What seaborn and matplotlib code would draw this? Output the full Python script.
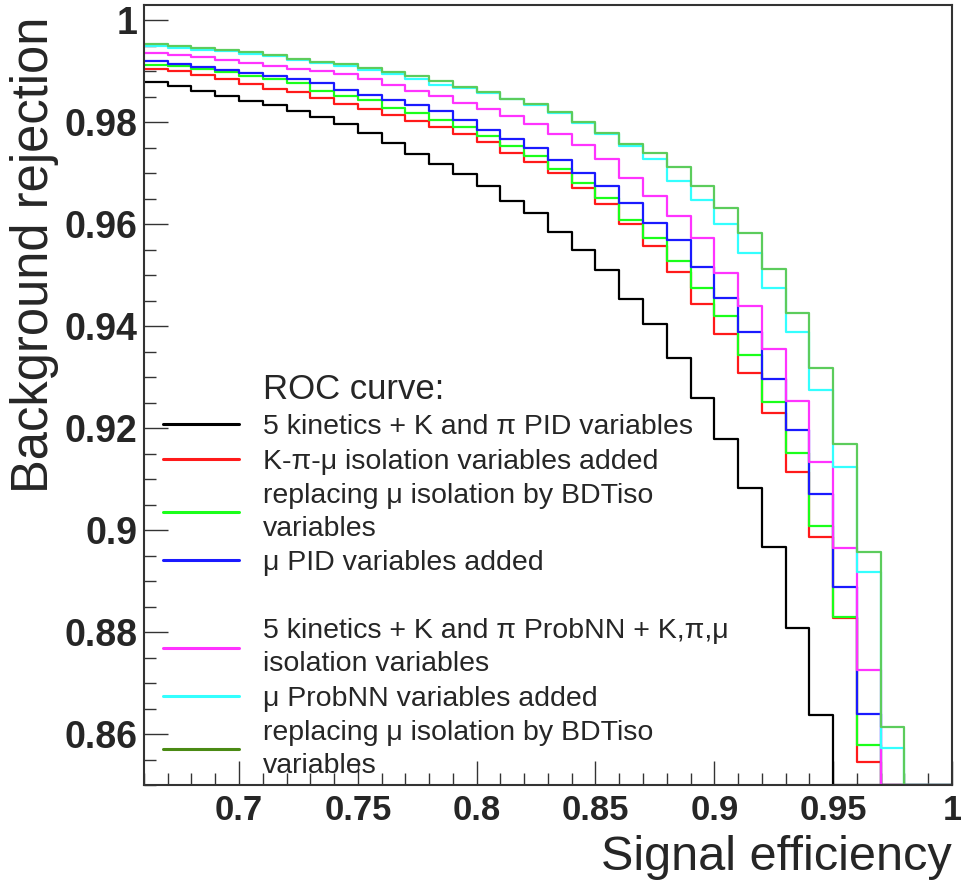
import numpy as np
import pandas as pd
import matplotlib
matplotlib.use("Agg")
import matplotlib.pyplot as plt
from matplotlib.lines import Line2D
from matplotlib.ticker import MultipleLocator, FuncFormatter
import seaborn as sns

# bin edges of the signal efficiency histograms (visible part only)
sig_eff_edges = np.linspace(0.66, 1.0, 35)

# background rejection per bin (0 = below the frame)
rej_kin_pid = [0.9879, 0.9871, 0.9862, 0.9852, 0.9841, 0.9833, 0.9822, 0.9810, 0.9796, 0.9779,
               0.9760, 0.9738, 0.9719, 0.9698, 0.9675, 0.9645, 0.9621, 0.9585, 0.9549, 0.9510,
               0.9453, 0.9404, 0.9338, 0.9259, 0.9178, 0.9082, 0.8967, 0.8808, 0.8637, 0,
               0, 0, 0, 0]
rej_kpimu_iso = [0.9905, 0.9900, 0.9892, 0.9885, 0.9875, 0.9866, 0.9859, 0.9848, 0.9835, 0.9825,
                 0.9815, 0.9802, 0.9790, 0.9777, 0.9761, 0.9740, 0.9722, 0.9701, 0.9671, 0.9639,
                 0.9600, 0.9557, 0.9506, 0.9444, 0.9385, 0.9309, 0.9229, 0.9113, 0.8987, 0.8827,
                 0.8546, 0, 0, 0]
rej_bdtiso = [0.9913, 0.9910, 0.9905, 0.9898, 0.9890, 0.9884, 0.9877, 0.9862, 0.9851, 0.9843,
              0.9828, 0.9818, 0.9805, 0.9790, 0.9773, 0.9754, 0.9733, 0.9709, 0.9680, 0.9652,
              0.9609, 0.9572, 0.9528, 0.9475, 0.9420, 0.9344, 0.9251, 0.9152, 0.9008, 0.8829,
              0.8579, 0, 0, 0]
rej_mu_pid = [0.9920, 0.9915, 0.9908, 0.9902, 0.9897, 0.9890, 0.9884, 0.9876, 0.9863, 0.9854,
              0.9843, 0.9833, 0.9822, 0.9804, 0.9785, 0.9768, 0.9749, 0.9726, 0.9701, 0.9675,
              0.9641, 0.9602, 0.9569, 0.9516, 0.9456, 0.9389, 0.9297, 0.9197, 0.9070, 0.8889,
              0.8639, 0, 0, 0]
rej_probnn = [0.9936, 0.9932, 0.9928, 0.9923, 0.9916, 0.9911, 0.9905, 0.9900, 0.9894, 0.9885,
              0.9874, 0.9861, 0.9851, 0.9838, 0.9826, 0.9812, 0.9796, 0.9776, 0.9756, 0.9728,
              0.9691, 0.9656, 0.9617, 0.9572, 0.9504, 0.9440, 0.9355, 0.9253, 0.9133, 0.8965,
              0.8725, 0, 0, 0]
rej_mu_probnn = [0.9950, 0.9946, 0.9941, 0.9939, 0.9934, 0.9930, 0.9922, 0.9916, 0.9910, 0.9902,
                 0.9894, 0.9885, 0.9874, 0.9867, 0.9858, 0.9845, 0.9834, 0.9818, 0.9799, 0.9777,
                 0.9753, 0.9727, 0.9685, 0.9647, 0.9600, 0.9543, 0.9475, 0.9389, 0.9275, 0.9123,
                 0.8918, 0.8573, 0, 0]
rej_probnn_bdtiso = [0.9954, 0.9950, 0.9946, 0.9941, 0.9937, 0.9931, 0.9924, 0.9918, 0.9914, 0.9907,
                     0.9899, 0.9890, 0.9881, 0.9869, 0.9859, 0.9846, 0.9835, 0.9820, 0.9800, 0.9778,
                     0.9758, 0.9739, 0.9713, 0.9675, 0.9631, 0.9583, 0.9513, 0.9425, 0.9317, 0.9168,
                     0.8957, 0.8613, 0, 0]

curve_names = ["kin_pid", "kpimu_iso", "bdtiso", "mu_pid", "probnn", "mu_probnn", "probnn_bdtiso"]
curve_labels = [
    "5 kinetics + K and π PID variables",
    "K-π-μ isolation variables added",
    "replacing μ isolation by BDTiso\nvariables",
    "μ PID variables added",
    "5 kinetics + K and π ProbNN + K,π,μ\nisolation variables",
    "μ ProbNN variables added",
    "replacing μ isolation by BDTiso\nvariables",
]
curve_colors = ["#000000", "#ff1a1a", "#1aff1a", "#1a1aff", "#ff33ff", "#33ffff", "#5ccc5c"]
legend_colors = ["#000000", "#ff1a1a", "#1aff1a", "#1a1aff", "#ff33ff", "#33ffff", "#4a8a14"]


def make_plot():
    all_rej = [rej_kin_pid, rej_kpimu_iso, rej_bdtiso, rej_mu_pid,
               rej_probnn, rej_mu_probnn, rej_probnn_bdtiso]
    y_lo, y_hi = 0.85, 1.003

    frames = []
    for name, rej in zip(curve_names, all_rej):
        # step histogram: repeat the last bin content at the right edge
        vals = np.clip(np.array(rej + [rej[-1]]), y_lo, None)
        frames.append(pd.DataFrame({"eff": sig_eff_edges, "rej": vals, "curve": name}))
    df = pd.concat(frames, ignore_index=True)

    sns.set_theme(style="ticks")
    plt.rcParams["font.family"] = ["Liberation Sans", "DejaVu Sans"]

    fig, ax = plt.subplots(figsize=(9.61, 8.88), dpi=100)
    fig.subplots_adjust(left=0.1498, right=0.9906, top=0.9944, bottom=0.116)

    sns.lineplot(data=df, x="eff", y="rej", hue="curve", hue_order=curve_names,
                 palette=dict(zip(curve_names, curve_colors)), estimator=None,
                 drawstyle="steps-post", linewidth=1.6, legend=False, ax=ax)

    ax.set_xlim(0.66, 1.0)
    ax.set_ylim(y_lo, y_hi)
    ax.xaxis.set_major_locator(MultipleLocator(0.05))
    ax.xaxis.set_minor_locator(MultipleLocator(0.01))
    ax.yaxis.set_major_locator(MultipleLocator(0.02))
    ax.yaxis.set_minor_locator(MultipleLocator(0.005))
    fmt = FuncFormatter(lambda v, p: f"{v:g}")
    ax.xaxis.set_major_formatter(fmt)
    ax.yaxis.set_major_formatter(fmt)

    ax.tick_params(which="both", direction="in", top=False, right=False, color="#333333")
    ax.tick_params(which="major", length=17, width=1.0)
    ax.tick_params(axis="x", which="major", pad=6.5, labelsize=25)
    ax.tick_params(axis="y", which="major", pad=5, labelsize=27)
    ax.tick_params(which="minor", length=8.5, width=1.0)
    for lbl in ax.get_xticklabels() + ax.get_yticklabels():
        lbl.set_fontweight("bold")
    for sp in ax.spines.values():
        sp.set_linewidth(1.5)
        sp.set_color("#333333")

    ax.set_xlabel("Signal efficiency", fontsize=35)
    ax.set_ylabel("Background rejection", fontsize=36.5)
    ax.xaxis.set_label_coords(1.0, -0.0645)
    ax.xaxis.label.set_horizontalalignment("right")
    ax.yaxis.set_label_coords(-0.105, 0.985)
    ax.yaxis.label.set_horizontalalignment("right")

    # legend: title row, the seven curves, and one empty spacer row
    blank = Line2D([], [], color="none")
    handles = [blank]
    labels = ["ROC curve:"]
    for i, (lab, col) in enumerate(zip(curve_labels, legend_colors)):
        if i == 4:
            handles.append(blank)
            labels.append(" ")
        handles.append(Line2D([], [], color=col, linewidth=2.2))
        labels.append(lab)
    leg = ax.legend(handles, labels, loc="upper left", bbox_to_anchor=(0.0235, 0.528),
                    frameon=False, fontsize=20.5, handlelength=2.66, handletextpad=0.84,
                    labelspacing=0.29, borderpad=0, borderaxespad=0)
    for txt in leg.get_texts():
        txt.set_linespacing(1.34)
    leg.get_texts()[0].set_fontsize(25)

    fig.savefig("out.png", dpi=100)
    plt.close(fig)


if __name__ == "__main__":
    make_plot()
